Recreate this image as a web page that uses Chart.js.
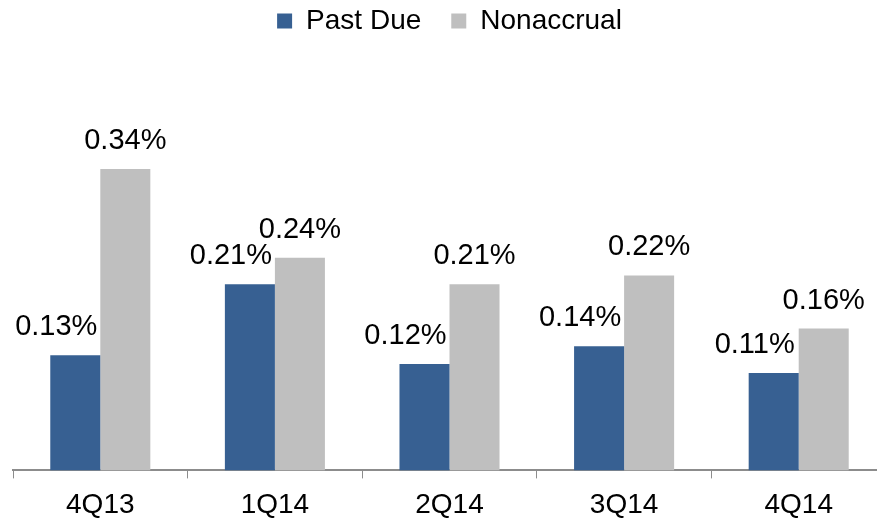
<!DOCTYPE html>
<html>
<head>
<meta charset="utf-8">
<script src="https://cdn.jsdelivr.net/npm/chart.js@4"></script>
<style>
    html, body { margin: 0; padding: 0; background: #fff; overflow: hidden; }
    #box { width: 886px; height: 532px; }
</style>
</head>
<body>
<div id="box"><canvas id="grafico"></canvas></div>
<script>
const trimestres = ['4Q13', '1Q14', '2Q14', '3Q14', '4Q14'];
const pastDue = [0.13, 0.21, 0.12, 0.14, 0.11];
const nonaccrual = [0.34, 0.24, 0.21, 0.22, 0.16];

const fonte = "'Liberation Sans', Arial, sans-serif";

// rótulos de valor acima das barras
const rotulos = {
    id: 'rotulos',
    afterDatasetsDraw(chart) {
        const ctx = chart.ctx;
        ctx.save();
        ctx.font = '29px ' + fonte;
        ctx.fillStyle = '#000';
        ctx.textAlign = 'center';
        ctx.textBaseline = 'alphabetic';
        chart.data.datasets.forEach((ds, i) => {
            const meta = chart.getDatasetMeta(i);
            meta.data.forEach((bar, j) => {
                const dx = i === 0 ? -19 : 0;
                ctx.fillText(ds.data[j].toFixed(2) + '%', bar.x + dx, bar.y - 20);
            });
        });
        ctx.restore();
    }
};

const ctx = document.getElementById('grafico').getContext('2d');

new Chart(ctx, {
    type: 'bar',
    data: {
        labels: trimestres,
        datasets: [{
            label: 'Past Due',
            data: pastDue,
            backgroundColor: '#376092',
            borderWidth: 0
        }, {
            label: 'Nonaccrual',
            data: nonaccrual,
            backgroundColor: '#bfbfbf',
            borderWidth: 0
        }]
    },
    options: {
        responsive: true,
        maintainAspectRatio: false,
        animation: false,
        categoryPercentage: 0.573,
        barPercentage: 1,
        layout: {
            padding: { left: 13, right: 0, top: -23, bottom: 0 }
        },
        plugins: {
            legend: {
                position: 'top',
                labels: {
                    boxWidth: 15,
                    boxHeight: 15,
                    padding: 30,
                    color: '#000',
                    font: { size: 28, family: fonte }
                }
            },
            tooltip: { enabled: false }
        },
        scales: {
            x: {
                grid: {
                    drawOnChartArea: false,
                    drawTicks: true,
                    tickLength: 8,
                    color: '#8c8c8c'
                },
                border: { color: '#8c8c8c', width: 2 },
                ticks: {
                    color: '#000',
                    padding: 10,
                    font: { size: 28, family: fonte }
                }
            },
            y: {
                display: false,
                min: 0,
                max: 0.48
            }
        }
    },
    plugins: [rotulos]
});
</script>
</body>
</html>
